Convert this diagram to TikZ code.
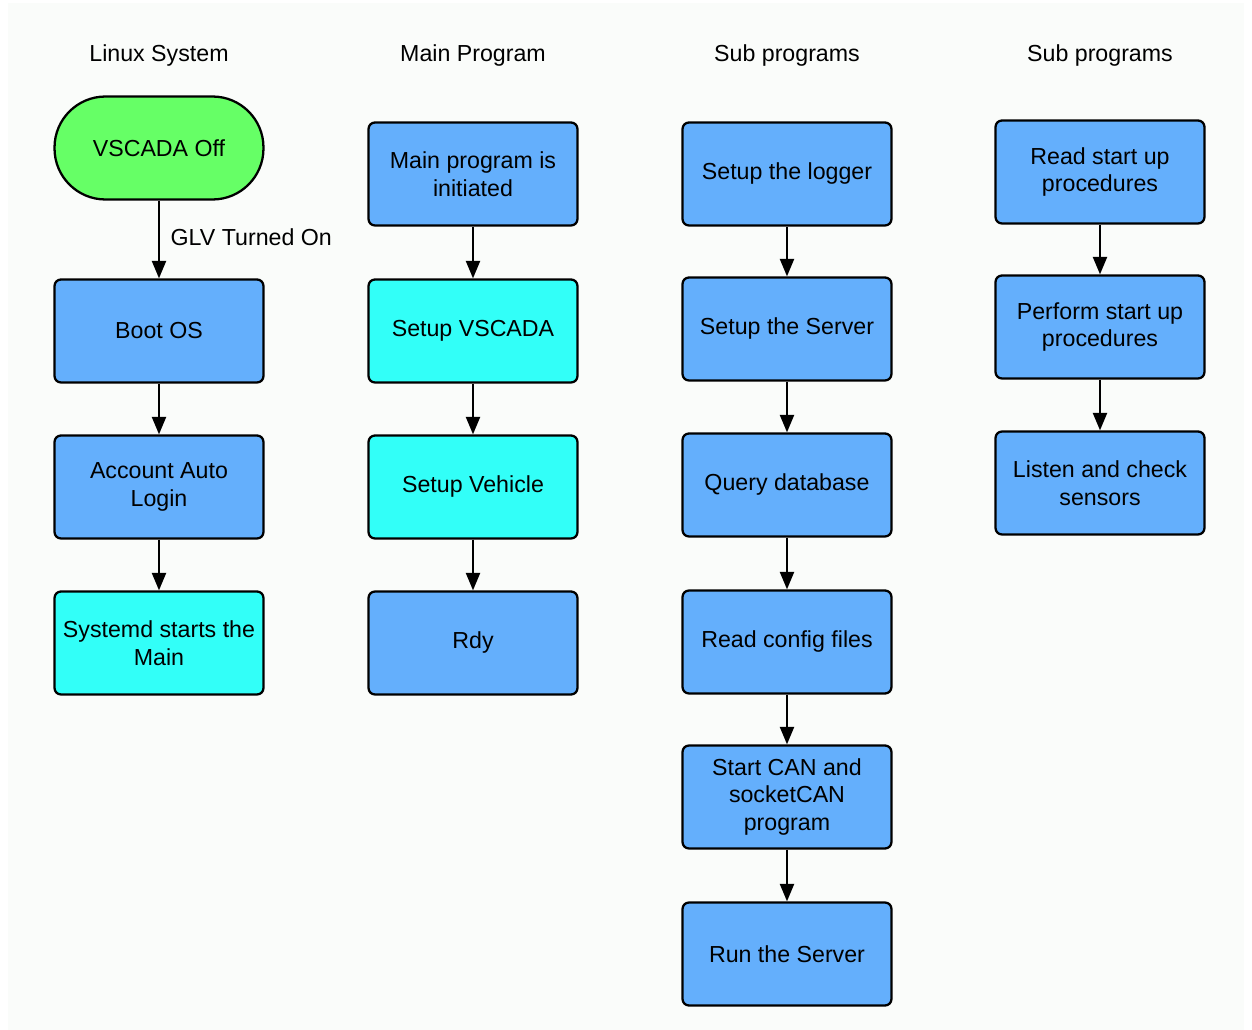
\documentclass[tikz,border=0pt]{standalone}
\usepackage{fontspec}
\setmainfont{Liberation Sans}
\usetikzlibrary{arrows.meta}
\definecolor{boxblue}{RGB}{100,175,252}
\definecolor{boxcyan}{RGB}{50,255,248}
\definecolor{boxgreen}{RGB}{102,255,102}
\definecolor{panel}{RGB}{250,252,250}
\begin{document}
\begin{tikzpicture}[x=0.02cm,y=-0.02cm,
  every node/.style={font=\fontsize{13.2}{15.9}\selectfont},
  stepbox/.style={draw=black,line width=1.3pt,rounded corners=0.13cm,
    minimum width=4.18cm,minimum height=2.06cm,inner sep=0pt,align=center,
    fill=boxblue},
  cyanbox/.style={stepbox,fill=boxcyan},
  startbox/.style={stepbox,fill=boxgreen,rounded corners=1.02cm},
  header/.style={inner sep=0pt},
  flow/.style={draw=black,line width=1.3pt,-{Triangle[length=10pt,width=8pt]}}]
  \useasboundingbox (0,0) rectangle (1252,1030);
  \fill[panel] (8,3) rectangle (1244,1030);

  % column headers
  \node[header] (h1) at (159,56) {Linux System};
  \node[header] (h2) at (473,56) {Main Program};
  \node[header] (h3) at (787,56) {Sub programs};
  \node[header] (h4) at (1100,56) {Sub programs};

  % Linux system
  \node[startbox] (off) at (159,148) {VSCADA Off};
  \node[stepbox] (boot) at (159,331) {Boot OS};
  \node[stepbox] (login) at (159,487) {Account Auto\\Login};
  \node[cyanbox] (systemd) at (159,643) {Systemd starts the\\Main};

  % main program
  \node[stepbox] (init) at (473,174) {Main program is\\initiated};
  \node[cyanbox] (setupv) at (473,331) {Setup VSCADA};
  \node[cyanbox] (vehicle) at (473,487) {Setup Vehicle};
  \node[stepbox] (rdy) at (473,643) {Rdy};

  % sub programs
  \node[stepbox] (logger) at (787,174) {Setup the logger};
  \node[stepbox] (server) at (787,329) {Setup the Server};
  \node[stepbox] (query) at (787,485) {Query database};
  \node[stepbox] (config) at (787,642) {Read config files};
  \node[stepbox] (can) at (787,797) {Start CAN and\\socketCAN\\program};
  \node[stepbox] (run) at (787,954) {Run the Server};

  % start up procedures
  \node[stepbox] (readsu) at (1100,172) {Read start up\\procedures};
  \node[stepbox] (perfsu) at (1100,327) {Perform start up\\procedures};
  \node[stepbox] (listen) at (1100,483) {Listen and check\\sensors};

  % connectors
  \draw[flow] (off) -- node[right=6pt,inner sep=0pt,yshift=1.5pt] {GLV Turned On} (boot);
  \draw[flow] (boot) -- (login);
  \draw[flow] (login) -- (systemd);
  \draw[flow] (init) -- (setupv);
  \draw[flow] (setupv) -- (vehicle);
  \draw[flow] (vehicle) -- (rdy);
  \draw[flow] (logger) -- (server);
  \draw[flow] (server) -- (query);
  \draw[flow] (query) -- (config);
  \draw[flow] (config) -- (can);
  \draw[flow] (can) -- (run);
  \draw[flow] (readsu) -- (perfsu);
  \draw[flow] (perfsu) -- (listen);
\end{tikzpicture}
\end{document}
